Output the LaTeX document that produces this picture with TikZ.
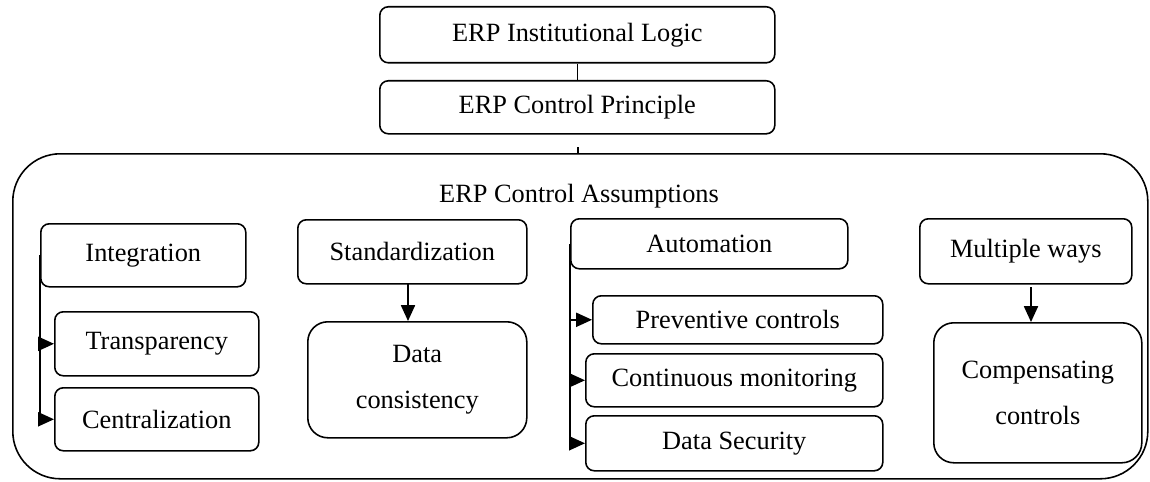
\documentclass[tikz,border=0pt]{standalone}
\usepackage{fontspec}
\setmainfont{Liberation Serif}
\usetikzlibrary{arrows.meta,calc}
\begin{document}
\begin{tikzpicture}[x=0.02cm,y=0.02cm, line width=0.9pt,
  txt/.style={font=\fontsize{15}{17}\selectfont, align=center},
  corners/.style n args={4}{anchor=north west, at={(#1,{481-#2})},
     minimum width={(#3-#1)*0.02cm}, minimum height={(#4-#2)*0.02cm}},
  box/.style={draw, rounded corners=0.17cm, inner sep=0pt, txt},
  tallbox/.style={box, rounded corners=0.4cm, font=\fontsize{15}{26}\selectfont},
  outer/.style={draw, rounded corners=0.95cm, inner sep=0pt},
  arr/.style={-{Triangle[length=9pt,width=8pt]}}]
\useasboundingbox (0,0) rectangle (1150,481);
% top
\node[box, corners={379}{6}{774}{62}] (logic) {ERP Institutional Logic};
\node[box, corners={379}{80}{774}{133}] (principle) {ERP Control Principle};
\draw (logic) -- (principle);
% outer box
\node[outer, corners={12}{153}{1147}{478}] (big) {};
\coordinate (tick) at (578,{481-147});
\draw (tick) -- (tick |- big.north);
\node[txt] (title) at (579,{481-196}) {ERP Control Assumptions};
% integration
\node[box, corners={40}{223}{245}{286}] (integ) {Integration};
\node[box, corners={54}{311}{258}{375}] (transp) {Transparency};
\node[box, corners={54}{387}{258}{450}] (central) {Centralization};
\draw[arr] (integ.west) |- (transp.west);
\draw[arr] (integ.west) |- (central.west);
% standardization
\node[box, corners={297}{219}{526}{283}] (std) {Standardization};
\node[tallbox, corners={307}{321}{526}{437}] (dc) {Data\\consistency};
\coordinate (s1) at (408,{481-283});
\draw[arr] (s1) -- (s1 |- dc.north);
% automation
\node[box, corners={570}{218}{847}{268}] (auto) {Automation};
\node[box, corners={592}{295}{882}{343}] (prev) {Preventive controls};
\node[box, corners={585}{353}{882}{406}] (cont) {Continuous monitoring};
\node[box, corners={585}{415}{882}{470}] (sec) {Data Security};
\draw[arr] (auto.west) |- (prev.west);
\draw[arr] (auto.west) |- (cont.west);
\draw[arr] (auto.west) |- (sec.west);
% multiple ways
\node[box, corners={919}{218}{1131}{283}] (mw) {Multiple ways};
\node[tallbox, corners={933}{322}{1141}{462}] (comp) {Compensating\\controls};
\coordinate (m1) at (1031,{481-287});
\draw[arr] (m1) -- (m1 |- comp.north);
\end{tikzpicture}
\end{document}
